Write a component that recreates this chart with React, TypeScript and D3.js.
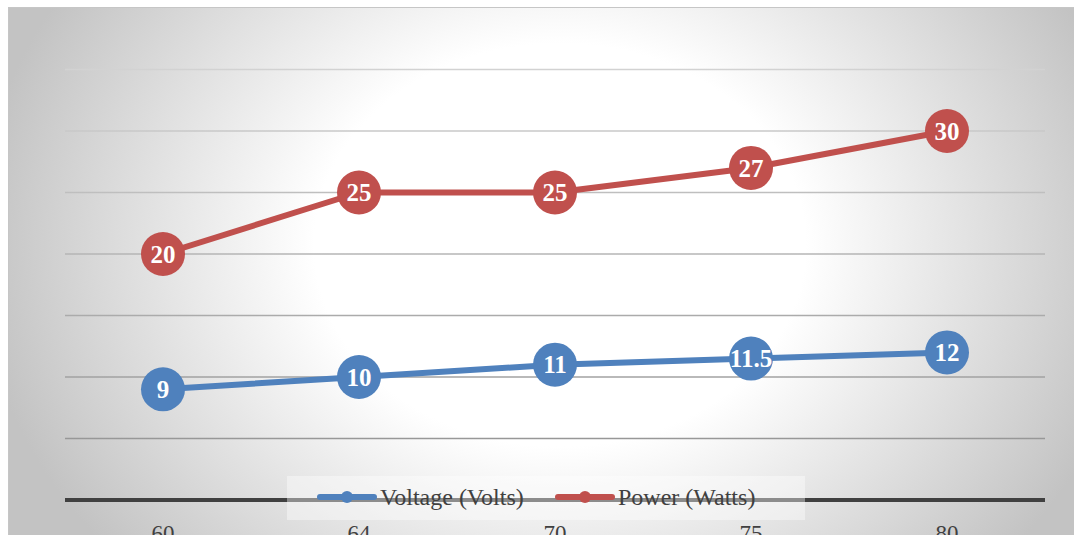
import React from "react";
import * as d3 from "d3";

const categories = ["60", "64", "70", "75", "80"];
const voltage = [9, 10, 11, 11.5, 12];
const power = [20, 25, 25, 27, 30];
const yTicks = [0, 5, 10, 15, 20, 25, 30, 35];
const seriesNames = ["Voltage (Volts)", "Power (Watts)"];

const W = 1074;
const H = 535;
const plot = { left: 65, right: 1045, top: 69.5, bottom: 500 };
const BLUE = "#4f81bd";
const RED = "#c0504d";
const SERIF = "'Liberation Serif', 'Times New Roman', serif";

export default function App() {
  const x = d3
    .scaleBand<string>()
    .domain(categories)
    .range([plot.left, plot.right]);
  const y = d3.scaleLinear().domain([0, 35]).range([plot.bottom, plot.top]);
  const cx = (c: string) => (x(c) ?? 0) + x.bandwidth() / 2;

  const line = d3
    .line<[string, number]>()
    .x((d) => cx(d[0]))
    .y((d) => y(d[1]));

  const series = [
    { name: seriesNames[0], values: voltage, color: BLUE },
    { name: seriesNames[1], values: power, color: RED },
  ];

  const legendItems = [
    { name: seriesNames[0], color: BLUE, x0: 320 },
    { name: seriesNames[1], color: RED, x0: 558 },
  ];

  return (
    <svg
      width={W}
      height={H}
      style={{ position: "fixed", left: 0, top: 0, background: "#fff" }}
    >
      <defs>
        <radialGradient
          id="bg"
          gradientUnits="userSpaceOnUse"
          cx={560}
          cy={245}
          r={585}
          gradientTransform="translate(560 245) scale(1 0.82) translate(-560 -245)"
        >
          <stop offset="0" stopColor="#ffffff" />
          <stop offset="0.42" stopColor="#ffffff" />
          <stop offset="1" stopColor="#c3c3c3" />
        </radialGradient>
        <linearGradient
          id="grid"
          gradientUnits="userSpaceOnUse"
          x1={0}
          y1={plot.top}
          x2={0}
          y2={plot.bottom}
        >
          <stop offset="0" stopColor="#d2d2d2" />
          <stop offset="1" stopColor="#8e8e8e" />
        </linearGradient>
      </defs>

      <rect
        x={8.5}
        y={7.5}
        width={1080}
        height={560}
        fill="url(#bg)"
        stroke="#c6c6c6"
        strokeWidth={1}
      />

      {/* horizontal gridlines */}
      {yTicks
        .filter((t) => t > 0)
        .map((t) => (
          <line
            key={t}
            x1={plot.left}
            x2={plot.right}
            y1={y(t)}
            y2={y(t)}
            stroke="url(#grid)"
            strokeWidth={1.5}
          />
        ))}

      {/* category axis */}
      <line
        x1={plot.left}
        x2={plot.right}
        y1={y(0)}
        y2={y(0)}
        stroke="#404040"
        strokeWidth={4}
      />
      {categories.map((c) => (
        <text
          key={c}
          x={cx(c)}
          y={541}
          textAnchor="middle"
          fontFamily={SERIF}
          fontSize={23}
          fill="#404040"
        >
          {c}
        </text>
      ))}

      {/* series lines, markers and value labels */}
      {series.map((s) => {
        const pts = categories.map(
          (c, i) => [c, s.values[i]] as [string, number]
        );
        return (
          <g key={s.name}>
            <path
              d={line(pts) ?? ""}
              fill="none"
              stroke={s.color}
              strokeWidth={6}
              strokeLinejoin="round"
              strokeLinecap="round"
            />
            {pts.map((p) => (
              <circle
                key={p[0]}
                cx={cx(p[0])}
                cy={y(p[1])}
                r={22}
                fill={s.color}
              />
            ))}
            {pts.map((p) => (
              <text
                key={"l" + p[0]}
                x={cx(p[0])}
                y={y(p[1])}
                dy="0.35em"
                textAnchor="middle"
                fontFamily={SERIF}
                fontWeight="bold"
                fontSize={25}
                fill="#ffffff"
              >
                {p[1]}
              </text>
            ))}
          </g>
        );
      })}

      {/* legend */}
      <rect
        x={287}
        y={476}
        width={518}
        height={44}
        fill="#ffffff"
        fillOpacity={0.4}
      />
      {legendItems.map((l) => (
        <g key={l.name}>
          <line
            x1={l.x0}
            x2={l.x0 + 54}
            y1={497}
            y2={497}
            stroke={l.color}
            strokeWidth={6}
            strokeLinecap="round"
          />
          <circle cx={l.x0 + 27} cy={497} r={6} fill={l.color} />
          <text
            x={l.x0 + 60}
            y={505}
            fontFamily={SERIF}
            fontSize={24}
            fill="#404040"
          >
            {l.name}
          </text>
        </g>
      ))}
    </svg>
  );
}
